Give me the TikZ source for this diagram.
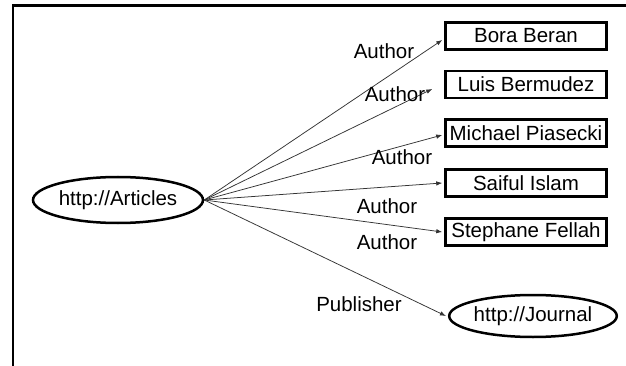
\documentclass[tikz,border=0pt]{standalone}
\usepackage{fontspec}
\setmainfont{Liberation Sans}
\usetikzlibrary{shapes.geometric,arrows.meta}
\begin{document}
\begin{tikzpicture}[x=1pt,y=-1pt,
  txt/.style={font=\fontsize{20.5}{24}\selectfont},
  person/.style={txt,draw,line width=2.5pt,minimum width=161pt,minimum height=27pt,inner sep=0pt},
  res/.style={txt,draw,ellipse,line width=2.5pt,inner sep=0pt},
  arr/.style={draw=black!80,line width=0.75pt,-{Latex[length=6pt,width=4.5pt]}},
  lbl/.style={txt,anchor=base,inner sep=0pt}]
\useasboundingbox (0,0) rectangle (626,366);
\fill[white] (0,0) rectangle (626,366);
\draw[line width=2.5pt] (626,5.5) -- (13,5.5) -- (13,366);

\node[person] (bora)  at (526,36)   {Bora Beran};
\node[person] (luis)  at (526,84.5) {Luis Bermudez};
\node[person] (mich)  at (526,133)  {Michael Piasecki};
\node[person] (saif)  at (526,183)  {Saiful Islam};
\node[person] (steph) at (526,232)  {Stephane Fellah};
\node[res,minimum width=170pt,minimum height=46pt] (art)  at (118,200) {http://Articles};
\node[res,minimum width=150pt,minimum height=42pt] (jour) at (533,316) {http://Journal};

\draw[arr] (art.east) -- ([xshift=-2pt,yshift=-4pt]bora.west);
\draw[arr] (art.east) -- ([xshift=-12pt,yshift=-4.5pt]luis.west);
\draw[arr] (art.east) -- ([xshift=-2pt,yshift=-2pt]mich.west);
\draw[arr] (art.east) -- ([xshift=-2pt]saif.west);
\draw[arr] (art.east) -- ([xshift=-2pt]steph.west);
\draw[arr] (art.east) -- ([xshift=-2pt]jour.west);

\node[lbl] (l1) at (384,59)  {Author};
\node[lbl] (l2) at (395,102) {Author};
\node[lbl] (l3) at (402,165) {Author};
\node[lbl] (l4) at (387,214) {Author};
\node[lbl] (l5) at (387,249) {Author};
\node[lbl] (l6) at (359,311) {Publisher};
\end{tikzpicture}
\end{document}
